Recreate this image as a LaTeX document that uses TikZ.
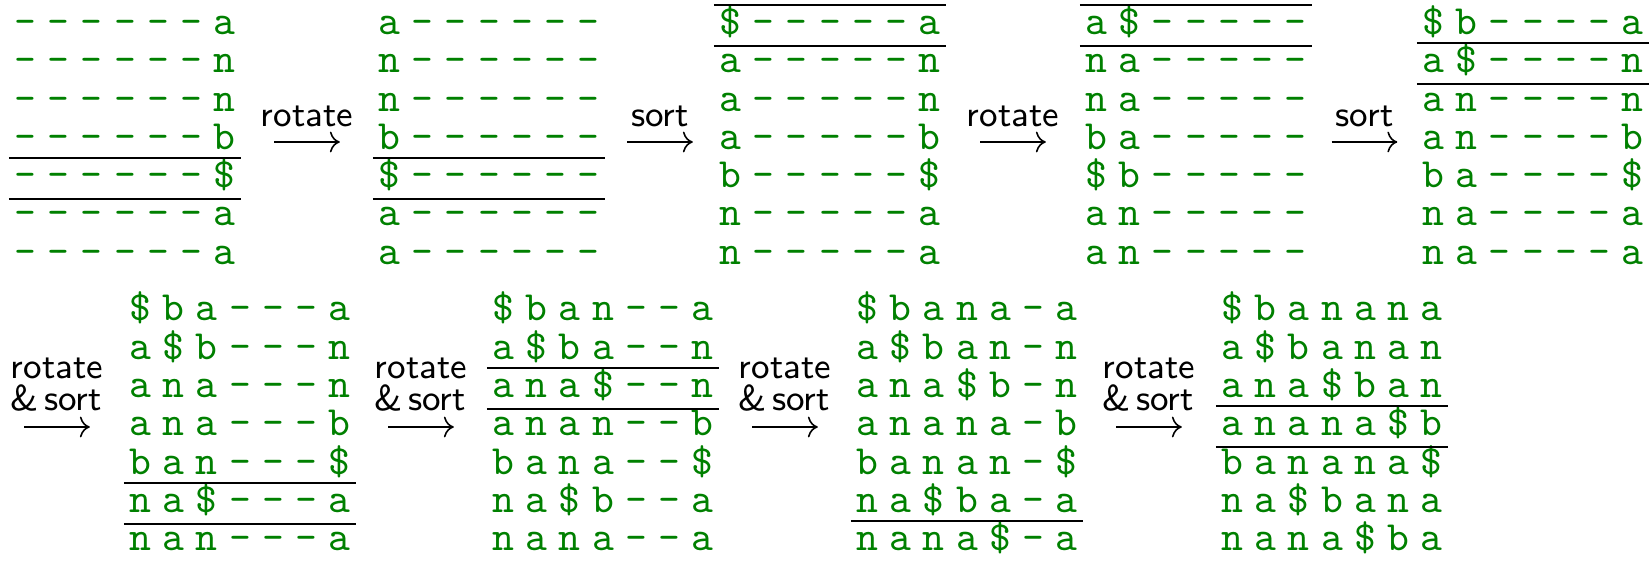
\documentclass[tikz,border=0pt]{standalone}
\usepackage{tikz}
\usetikzlibrary{arrows.meta}

\definecolor{bwtgreen}{RGB}{0,128,0}
\tikzset{
  ch/.style={anchor=base, inner sep=0pt, text=bwtgreen,
    font=\ttfamily\fontsize{10.4}{12}\selectfont},
  sep/.style={line width=0.5pt, black},
  lbl/.style={anchor=base, inner sep=0pt,
    font=\sffamily\fontsize{9}{11}\selectfont},
  stepto/.style={-{Computer Modern Rightarrow}, line width=0.4pt},
}

\begin{document}
\begin{tikzpicture}[x=0.25pt, y=-0.25pt]
  \useasboundingbox (0,0) rectangle (1652,564);

  % === Top row ===
  % Matrix 1: last column
  \begin{scope}[shift={(-7.8,-3.8)}, x=8.3pt, y=-9.575pt]
    \foreach \row [count=\r] in {{-,-,-,-,-,-,a},{-,-,-,-,-,-,n},{-,-,-,-,-,-,n},
      {-,-,-,-,-,-,b},{-,-,-,-,-,-,\$},{-,-,-,-,-,-,a},{-,-,-,-,-,-,a}} {
      \foreach \ch [count=\c] in \row
        \node[ch] (m1-\r-\c) at (\c,\r) {\ch};
    }
    \draw[sep] (0.5,4.22) -- (7.5,4.22);
    \draw[sep] (0.5,5.29) -- (7.5,5.29);
  \end{scope}

  \node[lbl] (t1) at (307,127) {rotate};
  \coordinate (t1a) at (274.2,142);
  \coordinate (t1b) at (339.8,142);
  \draw[stepto] (t1a) -- (t1b);

  % Matrix 2: rotated
  \begin{scope}[shift={(356.2,-3.8)}, x=8.3pt, y=-9.575pt]
    \foreach \row [count=\r] in {{a,-,-,-,-,-,-},{n,-,-,-,-,-,-},{n,-,-,-,-,-,-},
      {b,-,-,-,-,-,-},{\$,-,-,-,-,-,-},{a,-,-,-,-,-,-},{a,-,-,-,-,-,-}} {
      \foreach \ch [count=\c] in \row
        \node[ch] (m2-\r-\c) at (\c,\r) {\ch};
    }
    \draw[sep] (0.5,4.22) -- (7.5,4.22);
    \draw[sep] (0.5,5.29) -- (7.5,5.29);
  \end{scope}

  \node[lbl] (t2) at (660,127) {sort};
  \coordinate (t2a) at (627.2,142);
  \coordinate (t2b) at (692.8,142);
  \draw[stepto] (t2a) -- (t2b);

  % Matrix 3: sorted
  \begin{scope}[shift={(697.2,-3.8)}, x=8.3pt, y=-9.575pt]
    \foreach \row [count=\r] in {{\$,-,-,-,-,-,a},{a,-,-,-,-,-,n},{a,-,-,-,-,-,n},
      {a,-,-,-,-,-,b},{b,-,-,-,-,-,\$},{n,-,-,-,-,-,a},{n,-,-,-,-,-,a}} {
      \foreach \ch [count=\c] in \row
        \node[ch] (m3-\r-\c) at (\c,\r) {\ch};
    }
    \draw[sep] (0.5,0.22) -- (7.5,0.22);
    \draw[sep] (0.5,1.29) -- (7.5,1.29);
  \end{scope}

  \node[lbl] (t3) at (1013,127) {rotate};
  \coordinate (t3a) at (980.2,142);
  \coordinate (t3b) at (1045.8,142);
  \draw[stepto] (t3a) -- (t3b);

  % Matrix 4: rotated
  \begin{scope}[shift={(1063.2,-3.8)}, x=8.3pt, y=-9.575pt]
    \foreach \row [count=\r] in {{a,\$,-,-,-,-,-},{n,a,-,-,-,-,-},{n,a,-,-,-,-,-},
      {b,a,-,-,-,-,-},{\$,b,-,-,-,-,-},{a,n,-,-,-,-,-},{a,n,-,-,-,-,-}} {
      \foreach \ch [count=\c] in \row
        \node[ch] (m4-\r-\c) at (\c,\r) {\ch};
    }
    \draw[sep] (0.5,0.22) -- (7.5,0.22);
    \draw[sep] (0.5,1.29) -- (7.5,1.29);
  \end{scope}

  \node[lbl] (t4) at (1364.5,127) {sort};
  \coordinate (t4a) at (1331.7,142);
  \coordinate (t4b) at (1397.3,142);
  \draw[stepto] (t4a) -- (t4b);

  % Matrix 5: sorted
  \begin{scope}[shift={(1400.2,-3.8)}, x=8.3pt, y=-9.575pt]
    \foreach \row [count=\r] in {{\$,b,-,-,-,-,a},{a,\$,-,-,-,-,n},{a,n,-,-,-,-,n},
      {a,n,-,-,-,-,b},{b,a,-,-,-,-,\$},{n,a,-,-,-,-,a},{n,a,-,-,-,-,a}} {
      \foreach \ch [count=\c] in \row
        \node[ch] (m5-\r-\c) at (\c,\r) {\ch};
    }
    \draw[sep] (0.5,1.22) -- (7.5,1.22);
    \draw[sep] (0.5,2.29) -- (7.5,2.29);
  \end{scope}

  % === Bottom row ===
  \node[lbl] (b1r) at (57,379) {rotate};
  \node[lbl] (b1s) at (56,411) {\&\,sort};
  \coordinate (b1a) at (24.2,427);
  \coordinate (b1b) at (89.8,427);
  \draw[stepto] (b1a) -- (b1b);

  % Matrix 6
  \begin{scope}[shift={(107.2,282.7)}, x=8.3pt, y=-9.575pt]
    \foreach \row [count=\r] in {{\$,b,a,-,-,-,a},{a,\$,b,-,-,-,n},{a,n,a,-,-,-,n},
      {a,n,a,-,-,-,b},{b,a,n,-,-,-,\$},{n,a,\$,-,-,-,a},{n,a,n,-,-,-,a}} {
      \foreach \ch [count=\c] in \row
        \node[ch] (m6-\r-\c) at (\c,\r) {\ch};
    }
    \draw[sep] (0.5,5.22) -- (7.5,5.22);
    \draw[sep] (0.5,6.29) -- (7.5,6.29);
  \end{scope}

  \node[lbl] (b2r) at (421,379) {rotate};
  \node[lbl] (b2s) at (420,411) {\&\,sort};
  \coordinate (b2a) at (388.2,427);
  \coordinate (b2b) at (453.8,427);
  \draw[stepto] (b2a) -- (b2b);

  % Matrix 7
  \begin{scope}[shift={(470.2,282.7)}, x=8.3pt, y=-9.575pt]
    \foreach \row [count=\r] in {{\$,b,a,n,-,-,a},{a,\$,b,a,-,-,n},{a,n,a,\$,-,-,n},
      {a,n,a,n,-,-,b},{b,a,n,a,-,-,\$},{n,a,\$,b,-,-,a},{n,a,n,a,-,-,a}} {
      \foreach \ch [count=\c] in \row
        \node[ch] (m7-\r-\c) at (\c,\r) {\ch};
    }
    \draw[sep] (0.5,2.22) -- (7.5,2.22);
    \draw[sep] (0.5,3.29) -- (7.5,3.29);
  \end{scope}

  \node[lbl] (b3r) at (785,379) {rotate};
  \node[lbl] (b3s) at (784,411) {\&\,sort};
  \coordinate (b3a) at (752.2,427);
  \coordinate (b3b) at (817.8,427);
  \draw[stepto] (b3a) -- (b3b);

  % Matrix 8
  \begin{scope}[shift={(834.2,282.7)}, x=8.3pt, y=-9.575pt]
    \foreach \row [count=\r] in {{\$,b,a,n,a,-,a},{a,\$,b,a,n,-,n},{a,n,a,\$,b,-,n},
      {a,n,a,n,a,-,b},{b,a,n,a,n,-,\$},{n,a,\$,b,a,-,a},{n,a,n,a,\$,-,a}} {
      \foreach \ch [count=\c] in \row
        \node[ch] (m8-\r-\c) at (\c,\r) {\ch};
    }
    \draw[sep] (0.5,6.22) -- (7.5,6.22);
  \end{scope}

  \node[lbl] (b4r) at (1149,379) {rotate};
  \node[lbl] (b4s) at (1148,411) {\&\,sort};
  \coordinate (b4a) at (1116.2,427);
  \coordinate (b4b) at (1181.8,427);
  \draw[stepto] (b4a) -- (b4b);

  % Matrix 9: all rotations
  \begin{scope}[shift={(1199.2,282.7)}, x=8.3pt, y=-9.575pt]
    \foreach \row [count=\r] in {{\$,b,a,n,a,n,a},{a,\$,b,a,n,a,n},{a,n,a,\$,b,a,n},
      {a,n,a,n,a,\$,b},{b,a,n,a,n,a,\$},{n,a,\$,b,a,n,a},{n,a,n,a,\$,b,a}} {
      \foreach \ch [count=\c] in \row
        \node[ch] (m9-\r-\c) at (\c,\r) {\ch};
    }
    \draw[sep] (0.5,3.22) -- (7.5,3.22);
    \draw[sep] (0.5,4.29) -- (7.5,4.29);
  \end{scope}
\end{tikzpicture}
\end{document}
